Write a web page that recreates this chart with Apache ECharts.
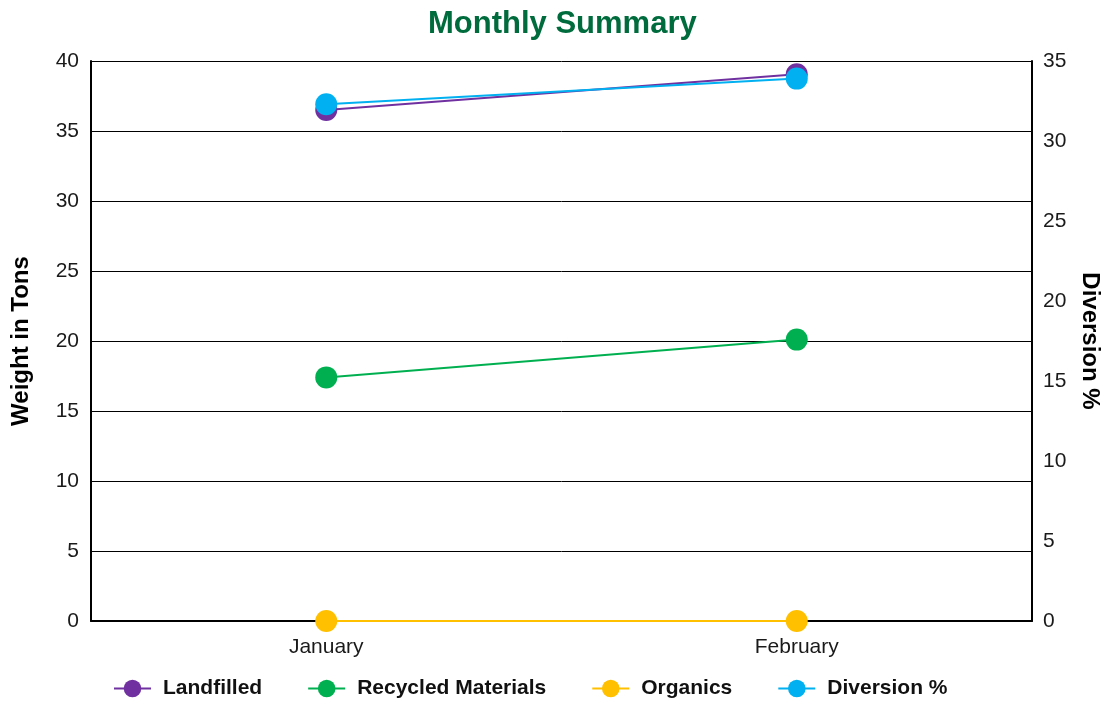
<!DOCTYPE html>
<html>
<head>
<meta charset="utf-8">
<script src="https://cdn.jsdelivr.net/npm/echarts@6/dist/echarts.min.js"></script>
<style>
  html, body { margin: 0; padding: 0; background: #fff; }
  #main { width: 1105px; height: 704px; }
</style>
</head>
<body>
<div id="main"></div>
<script>
  // data
  var months = ['January', 'February'];
  var landfilled = [36.5, 39.05];
  var recycled = [17.4, 20.1];
  var organics = [0, 0];
  var diversion = [32.3, 33.9];

  var baseFont = 'Arial, Liberation Sans, sans-serif';

  function lineSeries(name, data, color, axisIdx) {
    return {
      name: name,
      type: 'line',
      yAxisIndex: axisIdx,
      data: data,
      symbol: 'circle',
      symbolSize: 22,
      lineStyle: { color: color, width: 2 },
      itemStyle: { color: color },
      emphasis: { disabled: true }
    };
  }

  var myChart = echarts.init(document.getElementById('main'));
  var option = {
    animation: false,
    title: {
      text: 'Monthly Summary',
      left: 423,
      top: 4,
      textStyle: {
        color: '#006B3C',
        fontFamily: baseFont,
        fontWeight: 'bold',
        fontSize: 31
      }
    },
    legend: {
      top: 673,
      left: 108,
      itemWidth: 37,
      itemHeight: 22,
      itemGap: 45,
      textStyle: {
        fontFamily: baseFont,
        fontWeight: 'bold',
        fontSize: 21,
        color: '#111',
        padding: [0, 0, 0, 7]
      },
      data: ['Landfilled', 'Recycled Materials', 'Organics', 'Diversion %']
    },
    grid: { left: 91, right: 73, top: 61, bottom: 83, outerBoundsMode: 'none' },
    xAxis: {
      type: 'category',
      boundaryGap: true,
      data: months,
      axisLine: { lineStyle: { color: '#000', width: 2 } },
      axisTick: { show: false },
      axisLabel: { color: '#1a1a1a', fontSize: 21, fontFamily: baseFont, margin: 16 }
    },
    yAxis: [
      {
        type: 'value',
        min: 0, max: 40, interval: 5,
        name: 'Weight in Tons',
        nameLocation: 'middle',
        nameGap: 58,
        nameTextStyle: { color: '#000', fontWeight: 'bold', fontSize: 24, fontFamily: baseFont },
        axisLine: { show: true, lineStyle: { color: '#000', width: 2 } },
        axisTick: { show: false },
        axisLabel: { color: '#1a1a1a', fontSize: 21, fontFamily: baseFont, margin: 12, padding: [3, 0, 0, 0] },
        splitLine: { show: true, lineStyle: { color: '#000', width: 1 } }
      },
      {
        type: 'value',
        min: 0, max: 35, interval: 5,
        name: 'Diversion %',
        nameLocation: 'middle',
        nameGap: 43,
        nameRotate: -90,
        nameTextStyle: { color: '#000', fontWeight: 'bold', fontSize: 24, fontFamily: baseFont },
        axisLine: { show: true, lineStyle: { color: '#000', width: 2 } },
        axisTick: { show: false },
        axisLabel: { color: '#1a1a1a', fontSize: 21, fontFamily: baseFont, margin: 11, padding: [3, 0, 0, 0] },
        splitLine: { show: false }
      }
    ],
    series: [
      lineSeries('Landfilled', landfilled, '#7030A0', 0),
      lineSeries('Recycled Materials', recycled, '#00B050', 0),
      lineSeries('Organics', organics, '#FFC000', 0),
      lineSeries('Diversion %', diversion, '#00B0F0', 1)
    ]
  };
  myChart.setOption(option);
</script>
</body>
</html>
